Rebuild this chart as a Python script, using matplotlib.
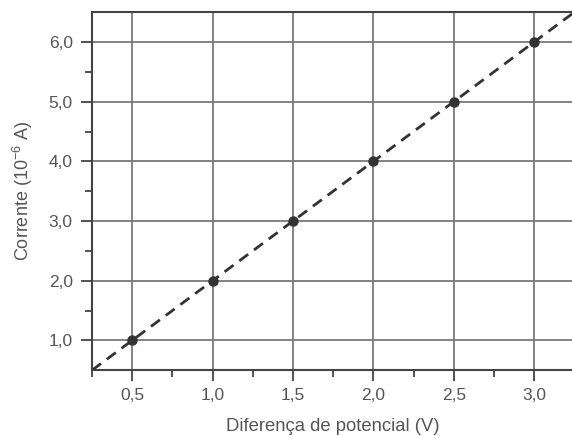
import matplotlib
matplotlib.use("Agg")
import matplotlib.pyplot as plt
import numpy as np

plt.rcParams['font.family'] = ['Liberation Sans', 'DejaVu Sans']
plt.rcParams['mathtext.fontset'] = 'custom'
plt.rcParams['mathtext.rm'] = 'Liberation Sans'

voltage = [0.5, 1.0, 1.5, 2.0, 2.5, 3.0]
current = [1.0, 2.0, 3.0, 4.0, 5.0, 6.0]
x_ticks = [0.5, 1.0, 1.5, 2.0, 2.5, 3.0]
x_tick_labels = ['0,5', '1,0', '1,5', '2,0', '2,5', '3,0']
y_ticks = [1.0, 2.0, 3.0, 4.0, 5.0, 6.0]
y_tick_labels = ['1,0', '2,0', '3,0', '4,0', '5,0', '6,0']
fit_x = [0.25, 3.25]
fit_y = [0.5, 6.5]

txt = '#555555'
fig = plt.figure(figsize=(5.72, 4.36), dpi=100)
ax = fig.add_axes([0.161, 0.151, 0.843, 0.821])
ax.set_xlim(0.25, 3.25)
ax.set_ylim(0.5, 6.5)

ax.set_xticks(x_ticks)
ax.set_xticklabels(x_tick_labels)
ax.set_yticks(y_ticks)
ax.set_yticklabels(y_tick_labels)
ax.set_xticks(np.arange(0.25, 3.3, 0.5), minor=True)
ax.set_yticks(np.arange(1.5, 6.5, 1.0), minor=True)

ax.grid(True, which='major', color='#7a7a7a', linewidth=1.3)
ax.set_axisbelow(True)

ax.plot(fit_x, fit_y, linestyle=(0, (4, 2.6)), color='#333333', linewidth=2.0, zorder=3)
ax.plot(voltage, current, 'o', color='#333333', markersize=6.5, zorder=4)

ax.spines['right'].set_visible(False)
for side in ['left', 'bottom', 'top']:
    ax.spines[side].set_color('#444444')
    ax.spines[side].set_linewidth(1.5)

ax.tick_params(axis='both', which='major', length=8, width=1.3, color='#444444',
               labelsize=12.5, labelcolor=txt)
ax.tick_params(axis='y', which='major', pad=6)
ax.tick_params(axis='x', which='major', pad=5)
ax.tick_params(axis='both', which='minor', length=5, width=1.3, color='#444444')

ax.set_xlabel('Diferença de potencial (V)', fontsize=13.3, color=txt, labelpad=11)
ax.set_ylabel(r'Corrente (10$^{-6}$ A)', fontsize=13, color=txt, labelpad=10)

fig.savefig('out.png', dpi=100)
